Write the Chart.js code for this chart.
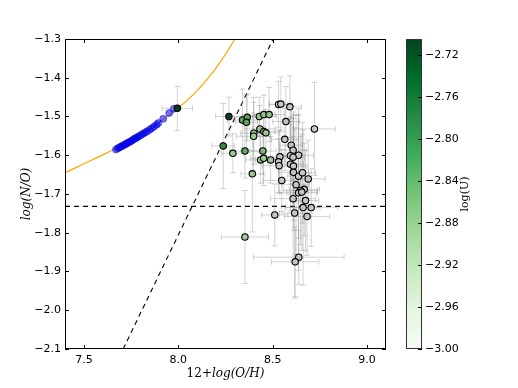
<!DOCTYPE html>
<html>
<head>
<meta charset="utf-8">
<script src="https://cdn.jsdelivr.net/npm/chart.js@4/dist/chart.umd.min.js"></script>
<style>
  html, body { margin: 0; padding: 0; background: #fff; }
  #wrap { width: 518px; height: 388px; position: relative; }
</style>
</head>
<body>
<div id="wrap"><canvas id="noChart" width="518" height="388"></canvas></div>
<script>
// ---- data ----
const xTicks = [7.5, 8.0, 8.5, 9.0];
const yTicks = [-2.1, -2.0, -1.9, -1.8, -1.7, -1.6, -1.5, -1.4, -1.3];
const cbTicks = [-3.00, -2.96, -2.92, -2.88, -2.84, -2.80, -2.76, -2.72];
const cbRange = [-3.00, -2.705];

// model curve (orange)
const curveX = [7.3, 7.4, 7.5, 7.6, 7.7, 7.8, 7.9, 8.0, 8.1, 8.2, 8.3, 8.4];
const curveY = [-1.664, -1.645, -1.622, -1.599, -1.574, -1.546, -1.514, -1.478, -1.433, -1.375, -1.300, -1.205];

// model grid points (blue)
const blueX = [7.670, 7.680, 7.688, 7.695, 7.703, 7.710, 7.718, 7.725, 7.733, 7.740, 7.748, 7.755, 7.763, 7.770, 7.778,
               7.785, 7.795, 7.805, 7.815, 7.825, 7.835, 7.848, 7.860, 7.872, 7.885, 7.894, 7.920, 7.952, 7.976];
const blueY = [-1.585, -1.582, -1.580, -1.578, -1.576, -1.574, -1.572, -1.570, -1.568, -1.566, -1.564, -1.562, -1.559, -1.557, -1.555,
               -1.553, -1.550, -1.547, -1.544, -1.541, -1.538, -1.534, -1.530, -1.526, -1.521, -1.517, -1.506, -1.491, -1.480];

// observed objects
const obsX = [8.268, 7.995, 8.238, 8.340, 8.365, 8.361, 8.429, 8.453, 8.481, 8.531, 8.543, 8.591, 8.570, 8.721, 8.400,
              8.399, 8.432, 8.453, 8.464, 8.289, 8.353, 8.448, 8.392, 8.436, 8.452, 8.489, 8.564, 8.598, 8.608, 8.637,
              8.594, 8.608, 8.538, 8.531, 8.534, 8.594, 8.610, 8.610, 8.637, 8.658, 8.688, 8.548, 8.624, 8.667, 8.647,
              8.637, 8.654, 8.608, 8.674, 8.661, 8.704, 8.616, 8.682, 8.511, 8.353, 8.638, 8.619];
const obsY = [-1.500, -1.479, -1.576, -1.509, -1.502, -1.515, -1.500, -1.495, -1.495, -1.469, -1.468, -1.475, -1.513, -1.532, -1.543,
              -1.551, -1.532, -1.539, -1.542, -1.595, -1.589, -1.589, -1.648, -1.612, -1.608, -1.612, -1.559, -1.574, -1.587, -1.600,
              -1.601, -1.605, -1.604, -1.617, -1.627, -1.623, -1.628, -1.644, -1.654, -1.645, -1.661, -1.665, -1.676, -1.688, -1.691,
              -1.697, -1.695, -1.712, -1.717, -1.735, -1.735, -1.749, -1.758, -1.754, -1.811, -1.863, -1.875];
const obsXerr = [0.07, 0.08, 0.06, 0.08, 0.07, 0.06, 0.09, 0.06, 0.08, 0.05, 0.06, 0.06, 0.07, 0.11, 0.07,
                 0.09, 0.08, 0.06, 0.07, 0.06, 0.08, 0.07, 0.06, 0.08, 0.07, 0.08, 0.07, 0.06, 0.07, 0.08,
                 0.05, 0.06, 0.08, 0.06, 0.09, 0.07, 0.07, 0.08, 0.06, 0.07, 0.09, 0.10, 0.07, 0.08, 0.09,
                 0.10, 0.08, 0.12, 0.07, 0.09, 0.14, 0.08, 0.12, 0.07, 0.125, 0.24, 0.125];
const obsYerr = [0.05, 0.057, 0.11, 0.08, 0.06, 0.07, 0.05, 0.05, 0.07, 0.06, 0.07, 0.08, 0.09, 0.12, 0.08,
                 0.10, 0.06, 0.05, 0.06, 0.05, 0.07, 0.06, 0.15, 0.06, 0.07, 0.06, 0.08, 0.10, 0.09, 0.12,
                 0.10, 0.10, 0.07, 0.08, 0.07, 0.12, 0.14, 0.15, 0.16, 0.13, 0.10, 0.08, 0.18, 0.12, 0.14,
                 0.20, 0.15, 0.16, 0.13, 0.20, 0.10, 0.22, 0.10, 0.08, 0.12, 0.07, 0.09];
const obsLogU = [-2.71, -2.71, -2.78, -2.82, -2.82, -2.82, -2.88, -2.88, -2.88, -3.00, -3.00, -3.00, -2.97, -3.00, -2.90,
                 -2.90, -2.90, -2.90, -2.90, -2.90, -2.82, -2.86, -2.90, -2.90, -2.90, -2.90, -3.00, -3.00, -3.00, -3.00,
                 -3.00, -3.00, -3.00, -3.00, -3.00, -3.00, -3.00, -3.00, -3.00, -3.00, -3.00, -3.00, -3.00, -3.00, -3.00,
                 -3.00, -3.00, -3.00, -3.00, -3.00, -3.00, -3.00, -3.00, -3.00, -2.90, -3.00, -3.00];

// reference lines
const hLineX = [7.4, 9.1], hLineY = [-1.732, -1.732];
const dLineX = [7.708, 8.502], dLineY = [-2.1, -1.3];

// ---- helpers ----
const toPts = (xs, ys) => xs.map((x, i) => ({ x: x, y: ys[i] }));
const minus = s => s.replace('-', '\u2212');

function lerpStops(stops, t) {
    t = Math.max(0, Math.min(1, t));
    for (let i = 1; i < stops.length; i++) {
        if (t <= stops[i][0]) {
            const a = stops[i - 1], b = stops[i];
            const f = (t - a[0]) / (b[0] - a[0]);
            return [0, 1, 2].map(k => Math.round(a[1][k] + f * (b[1][k] - a[1][k])));
        }
    }
    return stops[stops.length - 1][1];
}
const greens = [[0, [247, 252, 245]], [0.125, [229, 245, 224]], [0.25, [199, 233, 192]], [0.375, [161, 217, 155]],
                [0.5, [116, 196, 118]], [0.625, [65, 171, 93]], [0.75, [35, 139, 69]], [0.875, [0, 109, 44]], [1, [0, 68, 27]]];
const markerStops = [[0, [198, 198, 198]], [0.1, [186, 202, 182]], [0.35, [160, 200, 150]], [0.6, [95, 168, 95]],
                     [0.8, [45, 120, 60]], [1, [10, 58, 28]]];
const tOf = u => (u - cbRange[0]) / (cbRange[1] - cbRange[0]);
const markerColors = obsLogU.map(u => { const c = lerpStops(markerStops, tOf(u)); return `rgb(${c[0]},${c[1]},${c[2]})`; });

// ---- plugin: error bars, frame, inward ticks, titles, colorbar ----
const extras = {
    id: 'extras',
    beforeDatasetDraw(chart, args) {
        if (args.index !== 4) return;
        const { ctx, chartArea: a, scales: { x, y } } = chart;
        ctx.save();
        ctx.beginPath();
        ctx.rect(a.left, a.top, a.right - a.left, a.bottom - a.top);
        ctx.clip();
        ctx.strokeStyle = 'rgba(140,140,140,0.38)';
        ctx.lineWidth = 1;
        const cap = 3;
        obsX.forEach((ox, i) => {
            const px = x.getPixelForValue(ox), py = y.getPixelForValue(obsY[i]);
            const x0 = x.getPixelForValue(ox - obsXerr[i]), x1 = x.getPixelForValue(ox + obsXerr[i]);
            const y0 = y.getPixelForValue(obsY[i] - obsYerr[i]), y1 = y.getPixelForValue(obsY[i] + obsYerr[i]);
            ctx.beginPath();
            ctx.moveTo(x0, py); ctx.lineTo(x1, py);
            ctx.moveTo(x0, py - cap); ctx.lineTo(x0, py + cap);
            ctx.moveTo(x1, py - cap); ctx.lineTo(x1, py + cap);
            ctx.moveTo(px, y0); ctx.lineTo(px, y1);
            ctx.moveTo(px - cap, y0); ctx.lineTo(px + cap, y0);
            ctx.moveTo(px - cap, y1); ctx.lineTo(px + cap, y1);
            ctx.stroke();
        });
        ctx.restore();
    },
    afterDraw(chart) {
        const { ctx, chartArea: a, scales: { x, y } } = chart;
        ctx.save();
        // frame
        ctx.strokeStyle = '#000';
        ctx.lineWidth = 1;
        ctx.strokeRect(a.left + 0.5, a.top + 0.5, a.right - a.left - 1, a.bottom - a.top - 1);
        // inward ticks on all sides
        const tl = 4;
        ctx.beginPath();
        xTicks.forEach(v => {
            const px = Math.round(x.getPixelForValue(v)) + 0.5;
            ctx.moveTo(px, a.bottom); ctx.lineTo(px, a.bottom - tl);
            ctx.moveTo(px, a.top); ctx.lineTo(px, a.top + tl);
        });
        yTicks.forEach(v => {
            const py = Math.round(y.getPixelForValue(v)) + 0.5;
            ctx.moveTo(a.left, py); ctx.lineTo(a.left + tl, py);
            ctx.moveTo(a.right, py); ctx.lineTo(a.right - tl, py);
        });
        ctx.stroke();

        // axis titles
        ctx.fillStyle = '#000';
        ctx.textBaseline = 'middle';
        const p1 = '12', p2 = '+', p3 = 'log(O/H)';
        ctx.font = '12px "DejaVu Serif"';
        const w1 = ctx.measureText(p1).width, w2 = ctx.measureText(p2).width;
        ctx.font = 'italic 12px "DejaVu Serif"';
        const w3 = ctx.measureText(p3).width;
        let tx = (a.left + a.right) / 2 - (w1 + w2 + w3) / 2;
        const ty = 374;
        ctx.textAlign = 'left';
        ctx.font = '12px "DejaVu Serif"';
        ctx.fillText(p1, tx, ty); tx += w1;
        ctx.fillText(p2, tx, ty); tx += w2;
        ctx.font = 'italic 12px "DejaVu Serif"';
        ctx.fillText(p3, tx, ty);

        ctx.save();
        ctx.translate(27, (a.top + a.bottom) / 2);
        ctx.rotate(-Math.PI / 2);
        ctx.textAlign = 'center';
        ctx.font = 'italic 12px "DejaVu Serif"';
        ctx.fillText('log(N/O)', 0, 0);
        ctx.restore();

        // colorbar
        const cb = { left: 406, right: 422, top: a.top, bottom: a.bottom };
        const cbY = v => cb.bottom - (v - cbRange[0]) / (cbRange[1] - cbRange[0]) * (cb.bottom - cb.top);
        for (let py = cb.top; py < cb.bottom; py++) {
            const v = cbRange[1] - (py - cb.top + 0.5) / (cb.bottom - cb.top) * (cbRange[1] - cbRange[0]);
            const c = lerpStops(greens, tOf(v));
            ctx.fillStyle = `rgb(${c[0]},${c[1]},${c[2]})`;
            ctx.fillRect(cb.left, py, cb.right - cb.left, 1);
        }
        ctx.strokeStyle = '#333';
        ctx.strokeRect(cb.left + 0.5, cb.top + 0.5, cb.right - cb.left - 1, cb.bottom - cb.top - 1);
        ctx.strokeStyle = '#000';
        ctx.fillStyle = '#000';
        ctx.font = '11px "DejaVu Sans"';
        ctx.textAlign = 'left';
        ctx.textBaseline = 'middle';
        ctx.beginPath();
        cbTicks.forEach(v => {
            const py = Math.round(cbY(v)) + 0.5;
            ctx.moveTo(cb.right, py); ctx.lineTo(cb.right - tl, py);
            ctx.fillText(minus(v.toFixed(2)), cb.right + 3, py);
        });
        ctx.stroke();
        ctx.save();
        ctx.translate(465, (cb.top + cb.bottom) / 2);
        ctx.rotate(-Math.PI / 2);
        ctx.textAlign = 'center';
        ctx.font = '11px "DejaVu Serif"';
        ctx.fillText('log(U)', 0, 0);
        ctx.restore();
        ctx.restore();
    }
};

Chart.defaults.font.family = '"DejaVu Sans"';
Chart.defaults.font.size = 11;
Chart.defaults.color = '#000';

new Chart(document.getElementById('noChart'), {
    type: 'scatter',
    data: {
        datasets: [
            { data: toPts(curveX, curveY), showLine: true, borderColor: '#ffa500', borderWidth: 1.2,
              pointRadius: 0, tension: 0.4, order: 5 },
            { data: toPts(hLineX, hLineY), showLine: true, borderColor: '#000', borderWidth: 1.1,
              borderDash: [5, 4], pointRadius: 0, order: 4 },
            { data: toPts(dLineX, dLineY), showLine: true, borderColor: '#000', borderWidth: 1.1,
              borderDash: [5, 4], pointRadius: 0, order: 4 },
            { data: toPts(blueX, blueY), pointRadius: 3.5, pointBackgroundColor: 'rgba(0,0,255,0.55)',
              pointBorderColor: 'rgba(0,0,190,0.6)', pointBorderWidth: 0.8, order: 3 },
            { data: toPts(obsX, obsY), pointRadius: 3.2, pointBackgroundColor: markerColors,
              pointBorderColor: '#000', pointBorderWidth: 1.1, order: 1 }
        ]
    },
    options: {
        responsive: false,
        animation: false,
        events: [],
        layout: { padding: { left: 0, right: 132, top: 39, bottom: 0 } },
        plugins: { legend: { display: false }, tooltip: { enabled: false } },
        scales: {
            x: {
                type: 'linear', min: 7.4, max: 9.1,
                afterBuildTicks: s => { s.ticks = xTicks.map(v => ({ value: v })); },
                afterFit: s => { s.height = 39; },
                grid: { display: false, drawTicks: false },
                border: { display: false },
                ticks: { padding: 5, callback: v => v.toFixed(1) }
            },
            y: {
                type: 'linear', min: -2.1, max: -1.3,
                afterBuildTicks: s => { s.ticks = yTicks.map(v => ({ value: v })); },
                afterFit: s => { s.width = 65; },
                grid: { display: false, drawTicks: false },
                border: { display: false },
                ticks: { padding: 4, callback: v => minus(v.toFixed(1)) }
            }
        }
    },
    plugins: [extras]
});
</script>
</body>
</html>
